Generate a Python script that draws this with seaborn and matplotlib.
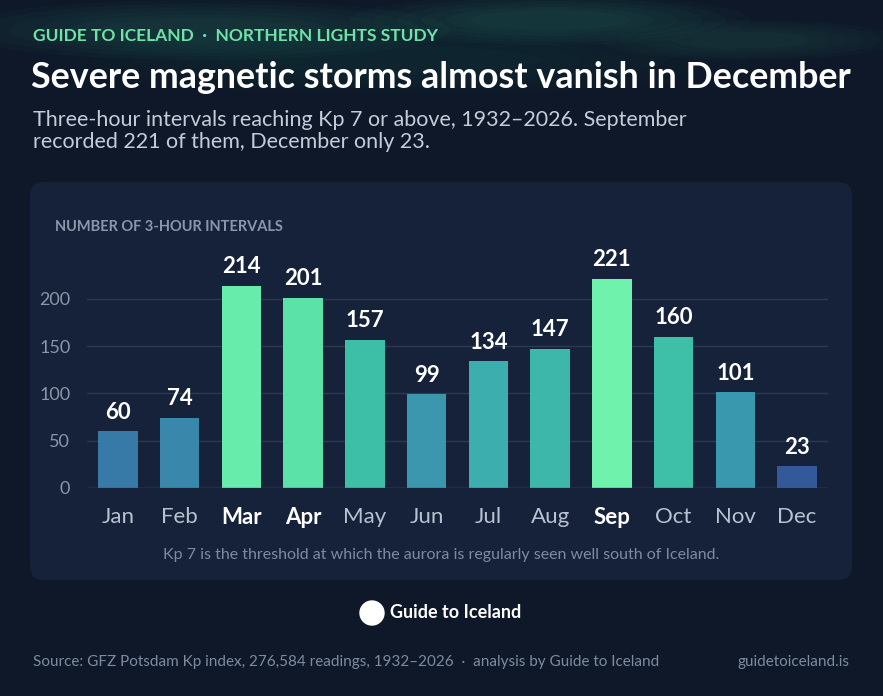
import matplotlib
matplotlib.use("Agg")
import matplotlib.pyplot as plt
import seaborn as sns
import numpy as np
import pandas as pd
from matplotlib.patches import FancyBboxPatch, Ellipse, Circle
from matplotlib.colors import LinearSegmentedColormap

months = ["Jan","Feb","Mar","Apr","May","Jun","Jul","Aug","Sep","Oct","Nov","Dec"]
counts = [60, 74, 214, 201, 157, 99, 134, 147, 221, 160, 101, 23]
yticks = [0, 50, 100, 150, 200]

sns.set_theme(style="dark")
plt.rcParams['font.family'] = ['Lato', 'DejaVu Sans']

BG = "#0e1828"
PANEL = "#15223a"
fig = plt.figure(figsize=(8.83, 6.96), dpi=100, facecolor=BG)

bgax = fig.add_axes([0, 0, 1, 1], zorder=-5)
bgax.set_xlim(0, 883); bgax.set_ylim(696, 0); bgax.axis("off")
for cx, cy, w, h, a in [(200, 30, 500, 60, 0.10), (550, 20, 400, 50, 0.12), (750, 40, 300, 40, 0.08), (400, 60, 700, 70, 0.05)]:
    for k in range(6):
        bgax.add_patch(Ellipse((cx, cy), w*(1-k*0.12), h*(1-k*0.12), color="#3fae86", alpha=a/3, lw=0))
bgax.add_patch(FancyBboxPatch((30, 182), 822, 398, boxstyle="round,pad=0,rounding_size=14",
                              fc=PANEL, ec="none"))

df = pd.DataFrame({"month": months, "count": counts})
cmap = LinearSegmentedColormap.from_list("c", ["#34599a", "#3a86ac", "#3aa6b0", "#3ec8a4", "#6ef2ac"])
vmin, vmax = min(counts), max(counts)
palette = {m: cmap((c - vmin) / (vmax - vmin)) for m, c in zip(months, counts)}

ax = fig.add_axes([87/883, 1-488/696, 741/883, 227/696])
ax.set_facecolor("none")
sns.barplot(data=df, x="month", y="count", hue="month", palette=palette, legend=False,
            width=0.64, ax=ax, saturation=1, zorder=3, linewidth=0, edgecolor="none")
ax.set_xlim(-0.5, 11.5); ax.set_ylim(0, 240)
ax.set_yticks(yticks)
ax.yaxis.grid(True, color="#2a3a52", lw=1, zorder=0)
ax.xaxis.grid(False)
for s in ax.spines.values(): s.set_visible(False)
ax.axhline(0, color="#3a4a62", lw=1, zorder=4)
ax.set_xlabel(""); ax.set_ylabel("")
ax.tick_params(axis="y", colors="#8a97aa", labelsize=13, length=0, pad=12)
ax.tick_params(axis="x", colors="#b8c2d0", labelsize=16, length=0, pad=14)
top3 = sorted(counts, reverse=True)[:3]
for lbl, c in zip(ax.get_xticklabels(), counts):
    if c in top3:
        lbl.set_fontweight("bold"); lbl.set_color("white")
for p, c in zip(ax.patches, counts):
    ax.text(p.get_x() + p.get_width()/2, c + 9, str(c), ha="center", va="bottom",
            color="white", fontsize=16, fontweight="bold")

fig.text(33/883, 1-36/696, "GUIDE TO ICELAND  ·  NORTHERN LIGHTS STUDY", color="#6fe3a6",
         fontsize=12.5, fontweight="bold", va="center")
fig.text(31/883, 1-78/696, "Severe magnetic storms almost vanish in December", color="white",
         fontsize=25.8, fontweight="bold", va="center")
fig.text(33/883, 1-131/696, "Three-hour intervals reaching Kp 7 or above, 1932–2026. September\nrecorded 221 of them, December only 23.",
         color="#c3ccd8", fontsize=15.5, va="center", linespacing=1.1)
fig.text(55/883, 1-227/696, "NUMBER OF 3-HOUR INTERVALS", color="#8a97aa", fontsize=10.5,
         fontweight="bold", va="center")
fig.text(441/883, 1-555/696, "Kp 7 is the threshold at which the aurora is regularly seen well south of Iceland.",
         color="#7d8ba0", fontsize=11.5, ha="center", va="center")
bgax.add_patch(Circle((372, 613), 12, color="white"))
fig.text(390/883, 1-613/696, "Guide to Iceland", color="white", fontsize=13, fontweight="bold", va="center")
fig.text(33/883, 1-662/696, "Source: GFZ Potsdam Kp index, 276,584 readings, 1932–2026  ·  analysis by Guide to Iceland",
         color="#7d8ba0", fontsize=11, va="center")
fig.text(850/883, 1-662/696, "guidetoiceland.is", color="#7d8ba0", fontsize=11, va="center", ha="right")

fig.savefig("out.png", dpi=100, facecolor=BG)
